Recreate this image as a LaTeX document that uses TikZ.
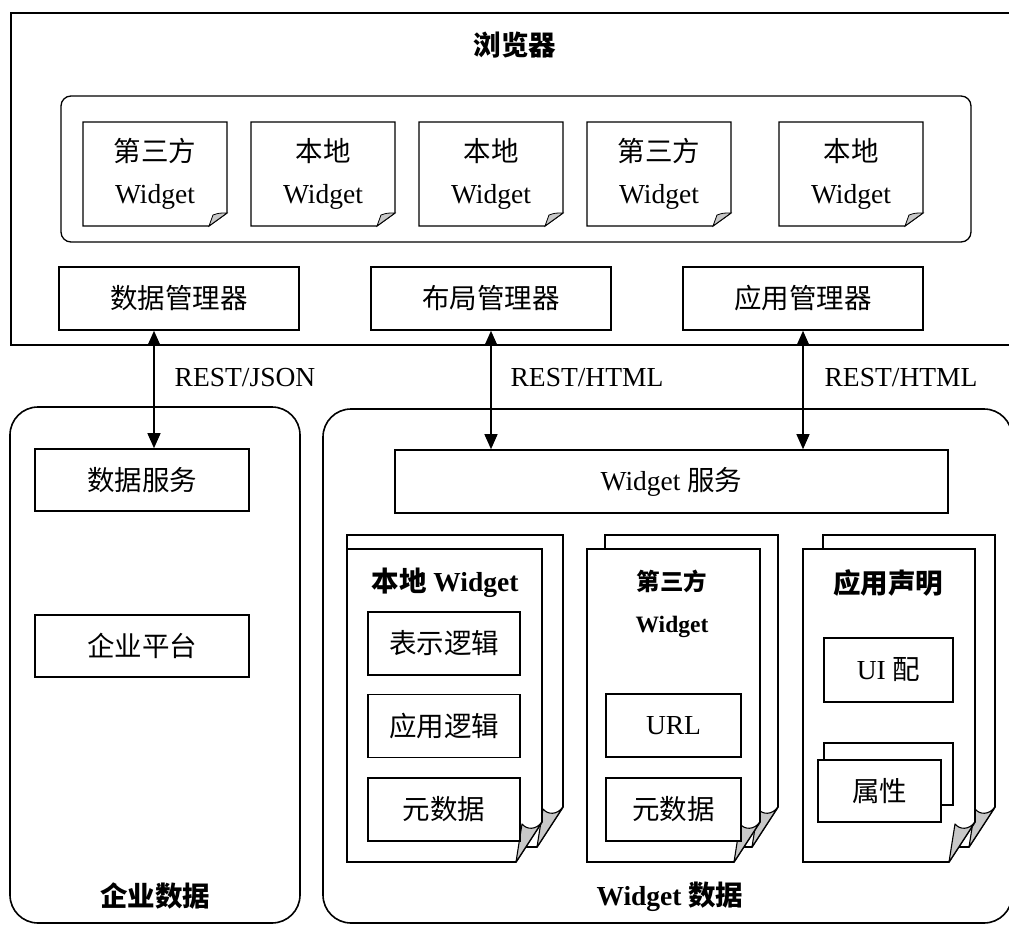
\documentclass[tikz,border=0pt]{standalone}
\usepackage{fontspec}
\setmainfont{Liberation Serif}
\newfontfamily\cjk{Noto Sans CJK SC}
\usetikzlibrary{arrows.meta}
\definecolor{curlgray}{RGB}{200,200,200}
\newcommand\myfs{\fontsize{27.5}{42}\selectfont}
\newcommand\mysmallfs{\fontsize{23.5}{42}\selectfont}
\newcommand\bigpage[4]{%
  \filldraw[fill=white, line width=1.6pt] (#1,#2) -- (#3,#2) -- (#3,#4-40) -- (#3-26,#4) -- (#1,#4) -- cycle;
  \filldraw[fill=curlgray, line width=1.1pt, line join=round] (#3-26,#4) -- (#3-20,#4-38) .. controls (#3-15,#4-32) and (#3-6,#4-32) .. (#3,#4-40) -- cycle;
}
\newcommand\smallpage[4]{%
  \filldraw[fill=white, line width=1.2pt] (#1,#2) -- (#3,#2) -- (#3,#4-13) -- (#3-18,#4) -- (#1,#4) -- cycle;
  \filldraw[fill=curlgray, line width=0.8pt] (#3-18,#4) -- (#3-14,#4-11) .. controls (#3-8,#4-13) .. (#3,#4-13) -- cycle;
}
\tikzset{
  box/.style={draw, line width=1.6pt, fill=white, inner sep=0pt, font=\myfs},
  lbl/.style={inner sep=0pt, font=\myfs},
  wtext/.style={inner sep=0pt, font=\myfs, align=center},
  cont/.style={draw, line width=1.6pt, rounded corners=28pt},
  biarrow/.style={line width=1.3pt, {Triangle[length=15pt,width=13pt]}-{Triangle[length=15pt,width=13pt]}}
}
\begin{document}
\begin{tikzpicture}[x=1pt,y=-1pt]
\clip (0,0) rectangle (1009,925);
\fill[white] (0,0) rectangle (1009,925);

% browser
\draw[line width=1.8pt] (11,13) rectangle (1040,345);
\node[lbl] (bt) at (515,45) {\cjk\bfseries 浏览器};
\draw[line width=1.3pt, rounded corners=10pt] (61,96) rectangle (971,242);

\smallpage{83}{122}{227}{226}
\smallpage{251}{122}{395}{226}
\smallpage{419}{122}{563}{226}
\smallpage{587}{122}{731}{226}
\smallpage{779}{122}{923}{226}
\node[wtext] (w1) at (155,174) {{\cjk 第三方}\\Widget};
\node[wtext] (w2) at (323,174) {{\cjk 本地}\\Widget};
\node[wtext] (w3) at (491,174) {{\cjk 本地}\\Widget};
\node[wtext] (w4) at (659,174) {{\cjk 第三方}\\Widget};
\node[wtext] (w5) at (851,174) {{\cjk 本地}\\Widget};

\node[box, minimum width=240, minimum height=63] (dm) at (179,298.5) {\cjk 数据管理器};
\node[box, minimum width=240, minimum height=63] (lm) at (491,298.5) {\cjk 布局管理器};
\node[box, minimum width=240, minimum height=63] (am) at (803,298.5) {\cjk 应用管理器};

% containers
\draw[cont] (10,407) rectangle (300,923);
\draw[cont] (323,409) rectangle (1012,923);

\node[box, minimum width=214, minimum height=62] (ds) at (142,480) {\cjk 数据服务};
\node[box, minimum width=214, minimum height=62] (ep) at (142,646) {\cjk 企业平台};
\node[box, minimum width=553, minimum height=63] (ws) at (671.5,481.5) {Widget {\cjk 服务}};

\node[lbl] (ed) at (155,896) {\cjk\bfseries 企业数据};
\node[lbl] (wd) at (670,897) {\textbf{Widget} {\cjk\bfseries 数据}};

% arrows
\coordinate (a1) at (154,0);
\draw[biarrow] (dm.south -| a1) -- (ds.north -| a1);
\draw[biarrow] (lm.south) -- (lm.south |- ws.north);
\draw[biarrow] (am.south) -- (am.south |- ws.north);
\node[lbl] (l1) at (245,378) {REST/JSON};
\node[lbl] (l2) at (587,378) {REST/HTML};
\node[lbl] (l3) at (901,378) {REST/HTML};

% local widget stack
\bigpage{347}{535}{563}{847}
\bigpage{347}{549}{542}{862}
\node[lbl] (lwt) at (445,583) {{\cjk\bfseries 本地} \textbf{Widget}};
\node[box, minimum width=152, minimum height=63] (pl) at (444,643.5) {\cjk 表示逻辑};
\node[box, minimum width=152, minimum height=63] (al) at (444,726) {\cjk 应用逻辑};
\node[box, minimum width=152, minimum height=63] (md1) at (444,809.5) {\cjk 元数据};

% third-party widget stack
\bigpage{605}{535}{778}{847}
\bigpage{587}{549}{760}{862}
\node[wtext, font=\mysmallfs] (tpt) at (672,604) {{\cjk\bfseries 第三方}\\\textbf{Widget}};
\node[box, minimum width=135, minimum height=63] (url) at (673.5,725.5) {URL};
\node[box, minimum width=135, minimum height=63] (md2) at (673.5,809.5) {\cjk 元数据};

% app declaration stack
\bigpage{823}{535}{995}{847}
\bigpage{803}{549}{975}{862}
\node[lbl] (adt) at (888,583) {\cjk\bfseries 应用声明};
\node[box, minimum width=129, minimum height=64] (ui) at (888.5,670) {UI {\cjk 配}};
\draw[line width=1.6pt, fill=white] (824,743) rectangle (953,805);
\node[box, minimum width=123, minimum height=62] (attr) at (879.5,791) {\cjk 属性};
\end{tikzpicture}
\end{document}
